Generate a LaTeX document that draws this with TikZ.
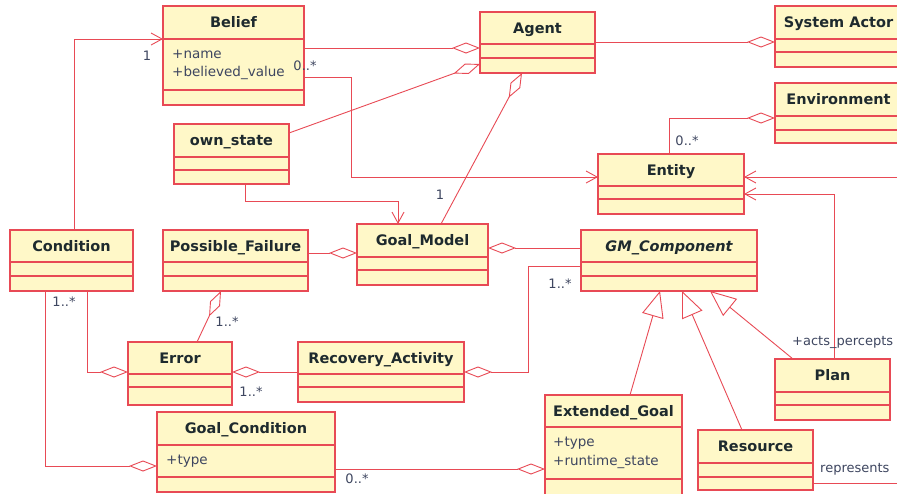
\documentclass[tikz,border=0pt]{standalone}
\usepackage{fontspec}
\setmainfont{DejaVu Sans}
\usetikzlibrary{arrows.meta}
\definecolor{umlred}{HTML}{E84A55}
\definecolor{umlfill}{HTML}{FFF8C8}
\definecolor{umltext}{HTML}{1E2A2E}
\definecolor{umllabel}{HTML}{3E4660}
\tikzset{
  clsbox/.style={draw=umlred, fill=umlfill, line width=1.1pt, inner sep=0pt, outer sep=0pt, rectangle},
  clsline/.style={draw=umlred, line width=1.1pt},
  clstitle/.style={inner sep=0pt, text=umltext, font=\fontsize{14.5}{17}\selectfont\bfseries, text height=11pt, text depth=0.4pt},
  attr/.style={inner sep=0pt, anchor=west, text=umllabel, font=\fontsize{13.5}{16}\selectfont, text height=8pt, text depth=0.5pt},
  mult/.style={inner sep=0pt, text=umllabel, font=\fontsize{13}{16}\selectfont, text height=8pt, text depth=0.5pt},
  conn/.style={draw=umlred, line width=0.9pt},
  nav/.style={conn, -{Straight Barb[length=11pt,width=12pt]}},
  agg/.style={conn, -{Diamond[open,length=28pt,width=11pt]}},
  gen/.style={conn, -{Triangle[open,length=26pt,width=22pt]}},
}
\newcommand\umlclass[8]{%
  \node[clsbox, minimum width={#4-#2}, minimum height={#5-#3}] (#1) at ({(#2+#4)/2},{(#3+#5)/2}) {};
  \draw[clsline] (#1.west |- 0,#6) -- (#1.east |- 0,#6);
  \draw[clsline] (#1.west |- 0,#7) -- (#1.east |- 0,#7);
  \node[clstitle] (#1-title) at ({(#2+#4)/2},{(#3+#6)/2}) {#8};
}
\begin{document}
\begin{tikzpicture}[x=1pt,y=-1pt]
\useasboundingbox (0,0) rectangle (897,493);
\clip (0,0) rectangle (897,493);
\fill[white] (0,0) rectangle (897,493);

% classes
\umlclass{belief}{163}{6}{304}{105}{39}{90}{Belief}
\umlclass{agent}{480}{12}{595}{73}{44}{58}{Agent}
\umlclass{sysactor}{775}{6}{902}{67}{39}{52}{System Actor}
\umlclass{environment}{775}{83}{902}{143}{116}{130}{Environment}
\umlclass{ownstate}{174}{124}{289}{184}{157}{170}{own\_state}
\umlclass{entity}{598}{154}{744}{214}{186}{199}{Entity}
\umlclass{condition}{10}{230}{133}{291}{262}{276}{Condition}
\umlclass{pfailure}{163}{230}{308}{291}{262}{276}{Possible\_Failure}
\umlclass{goalmodel}{357}{224}{488}{285}{257}{270}{Goal\_Model}
\umlclass{gmcomp}{581}{230}{757}{291}{262}{276}{\itshape GM\_Component}
\umlclass{error}{128}{342}{232}{405}{374}{387}{Error}
\umlclass{recovery}{298}{342}{464}{402}{374}{387}{Recovery\_Activity}
\umlclass{plan}{775}{359}{890}{420}{392}{405}{Plan}
\umlclass{goalcond}{157}{412}{335}{492}{445}{477}{Goal\_Condition}
\umlclass{extgoal}{545}{395}{682}{520}{427}{479}{Extended\_Goal}
\umlclass{resource}{698}{430}{813}{490}{463}{477}{Resource}

% attributes
\node[attr] (belief-a1) at (172,55) {+name};
\node[attr] (belief-a2) at (172,73) {+believed\_value};
\node[attr] (goalcond-a1) at (166,461) {+type};
\node[attr] (extgoal-a1) at (553,443) {+type};
\node[attr] (extgoal-a2) at (553,462) {+runtime\_state};

% free ends at the right border
\coordinate (rightA) at (910,177);
\coordinate (rightB) at (910,483);

% connectors
\draw[nav] (condition.north -| 74,0) |- (belief.west |- 0,39);
\node[mult] (m1) at (147,57) {1};
\draw[agg] (belief.east |- 0,48) -- (agent.west |- 0,48);
\draw[nav] (belief.east |- 0,77) -- (351,77) -- (351,177) -- (entity.west |- 0,177);
\node[mult] (m2) at (305,67) {0..*};
\draw[agg] (ownstate.east |- 0,133) -- (agent.west |- 0,64);
\draw[nav] (ownstate.south -| 245,0) -- (245,201) -- (398,201) -- (goalmodel.north -| 398,0);
\draw[agg] (goalmodel.north -| 441,0) -- (agent.south -| 522,0);
\node[mult] (m3) at (440,196) {1};
\draw[agg] (agent.east |- 0,42) -- (sysactor.west |- 0,42);
\draw[agg] (entity.north -| 669,0) |- (environment.west |- 0,118);
\node[mult] (m4) at (687,142) {0..*};
\draw[nav] (rightA) -- (entity.east |- 0,177);
\draw[nav] (plan.north -| 834,0) |- (entity.east |- 0,194);
\node[mult, anchor=west] (m5) at (792,342) {+acts\_percepts};
\draw[agg] (gmcomp.west |- 0,248) -- (goalmodel.east |- 0,248);
\draw[agg] (pfailure.east |- 0,253) -- (goalmodel.west |- 0,253);
\draw[agg] (gmcomp.west |- 0,266) -- (528,266) -- (528,372) -- (recovery.east |- 0,372);
\node[mult] (m6) at (560,285) {1..*};
\draw[agg] (error.north -| 197,0) -- (pfailure.south -| 221,0);
\node[mult] (m7) at (227,323) {1..*};
\draw[agg] (condition.south -| 87,0) |- (error.west |- 0,372);
\node[mult] (m8) at (64,303) {1..*};
\draw[agg] (recovery.west |- 0,372) -- (error.east |- 0,372);
\node[mult] (m9) at (251,393) {1..*};
\draw[agg] (condition.south -| 45,0) |- (goalcond.west |- 0,466);
\draw[agg] (goalcond.east |- 0,469) -- (extgoal.west |- 0,469);
\node[mult] (m10) at (357,480) {0..*};
\draw[gen] (extgoal.north -| 630,0) -- (gmcomp.south -| 660,0);
\draw[gen] (resource.north -| 742,0) -- (gmcomp.south -| 682,0);
\draw[gen] (plan.north -| 793,0) -- (gmcomp.south -| 710,0);
\draw[conn] (resource.east |- 0,483) -- (rightB);
\node[mult, anchor=west] (m11) at (820,469) {represents};
\end{tikzpicture}
\end{document}
